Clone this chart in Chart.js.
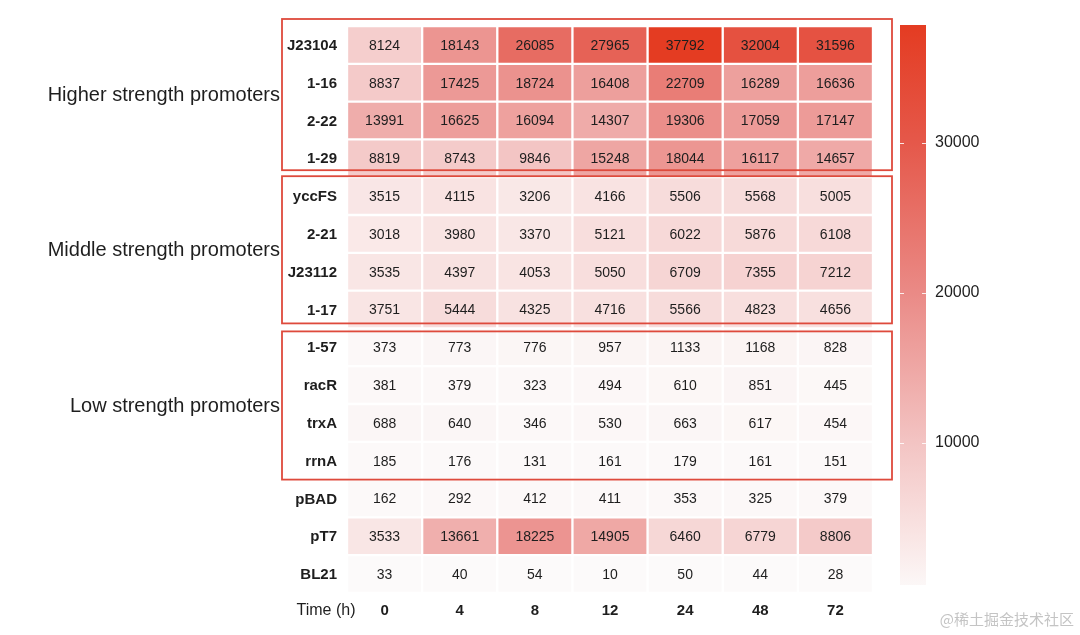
<!DOCTYPE html>
<html>
<head>
<meta charset="utf-8">
<script src="https://cdn.jsdelivr.net/npm/chart.js@4.4.1/dist/chart.umd.min.js"></script>
<style>
  html, body { margin: 0; padding: 0; background: #ffffff; }
  #wrap { position: relative; width: 1080px; height: 635px; }
</style>
</head>
<body>
<div id="wrap"><canvas id="c" width="1080" height="635"></canvas></div>
<script>
// ---- data ----
const rows = ['J23104','1-16','2-22','1-29','yccFS','2-21','J23112','1-17','1-57','racR','trxA','rrnA','pBAD','pT7','BL21'];
const times = ['0','4','8','12','24','48','72'];
const h0  = [8124, 8837, 13991, 8819, 3515, 3018, 3535, 3751, 373, 381, 688, 185, 162, 3533, 33];
const h4  = [18143, 17425, 16625, 8743, 4115, 3980, 4397, 5444, 773, 379, 640, 176, 292, 13661, 40];
const h8  = [26085, 18724, 16094, 9846, 3206, 3370, 4053, 4325, 776, 323, 346, 131, 412, 18225, 54];
const h12 = [27965, 16408, 14307, 15248, 4166, 5121, 5050, 4716, 957, 494, 530, 161, 411, 14905, 10];
const h24 = [37792, 22709, 19306, 18044, 5506, 6022, 6709, 5566, 1133, 610, 663, 179, 353, 6460, 50];
const h48 = [32004, 16289, 17059, 16117, 5568, 5876, 7355, 4823, 1168, 851, 617, 161, 325, 6779, 44];
const h72 = [31596, 16636, 17147, 14657, 5005, 6108, 7212, 4656, 828, 445, 454, 151, 379, 8806, 28];
const columns = [h0, h4, h8, h12, h24, h48, h72];
const groupNames = ['Higher strength promoters', 'Middle strength promoters', 'Low strength promoters'];
const groupFirstRow = [0, 4, 8];
const groupLastRow = [3, 7, 11];
const colorbarTicks = [10000, 20000, 30000];

// ---- colour scale ----
const vmax = Math.max(...columns.flat());
const stops = [
  [0.00, [252, 250, 250]],
  [0.10, [249, 229, 228]],
  [0.265, [243, 196, 195]],
  [0.53, [234, 138, 134]],
  [0.795, [229, 88, 74]],
  [1.00, [228, 60, 34]]
];
function colorAt(t) {
  t = Math.max(0, Math.min(1, t));
  for (let i = 1; i < stops.length; i++) {
    if (t <= stops[i][0]) {
      const [t0, c0] = stops[i - 1], [t1, c1] = stops[i];
      const f = (t - t0) / (t1 - t0);
      return 'rgb(' + c0.map((c, k) => Math.round(c + (c1[k] - c) * f)).join(',') + ')';
    }
  }
  return 'rgb(' + stops[stops.length - 1][1].join(',') + ')';
}
const colorFor = v => colorAt(v / vmax);

const FONT = "'Liberation Sans', Arial, Helvetica, sans-serif";
const TEXT = '#1e1e1e';

const datasets = columns.map((col, i) => ({
  label: times[i],
  data: col.map(() => 1),
  values: col,
  backgroundColor: col.map(colorFor),
  borderColor: '#ffffff',
  borderWidth: 1.5,
  borderSkipped: false,
  barPercentage: 1,
  categoryPercentage: 1
}));

const overlay = {
  id: 'overlay',
  afterDatasetsDraw(chart) {
    const ctx = chart.ctx;
    const y = chart.scales.y;
    const area = chart.chartArea;
    // cell labels
    ctx.save();
    ctx.font = '14px ' + FONT;
    ctx.fillStyle = TEXT;
    ctx.textAlign = 'center';
    ctx.textBaseline = 'middle';
    chart.data.datasets.forEach((ds, di) => {
      chart.getDatasetMeta(di).data.forEach((el, ri) => {
        const p = el.getCenterPoint();
        ctx.fillText(String(ds.values[ri]), p.x, p.y + 1);
      });
    });
    ctx.restore();

    // group boxes and labels
    const rowH = y.getPixelForValue(1) - y.getPixelForValue(0);
    const offTop = [-7, -1, 3];
    const offBot = [-7, -5, 0];
    ctx.save();
    ctx.strokeStyle = '#de4a3c';
    ctx.lineWidth = 1.8;
    groupNames.forEach((name, g) => {
      const top = y.getPixelForValue(groupFirstRow[g]) - rowH / 2 + offTop[g];
      const bot = y.getPixelForValue(groupLastRow[g]) + rowH / 2 + offBot[g];
      const left = area.left - 65;
      const right = area.right + 19;
      ctx.strokeRect(left, top, right - left, bot - top);
      ctx.font = '20px ' + FONT;
      ctx.fillStyle = TEXT;
      ctx.textAlign = 'right';
      ctx.textBaseline = 'middle';
      ctx.fillText(name, left - 2, (top + bot) / 2 + 1);
    });
    ctx.restore();

    // x axis caption
    ctx.save();
    ctx.font = '16px ' + FONT;
    ctx.fillStyle = TEXT;
    ctx.textAlign = 'center';
    ctx.textBaseline = 'middle';
    ctx.fillText('Time (h)', area.left - 21, area.bottom + 18);
    ctx.restore();

    // colour bar
    const cb = chart.scales.cb;
    const x0 = cb.left + 27, w = 26;
    const yTop = cb.top - 1, yBot = cb.bottom - 8;
    const grad = ctx.createLinearGradient(0, cb.getPixelForValue(0), 0, cb.getPixelForValue(vmax));
    stops.forEach(([t, c]) => grad.addColorStop(t, 'rgb(' + c.join(',') + ')'));
    ctx.save();
    ctx.fillStyle = grad;
    ctx.fillRect(x0, yTop, w, yBot - yTop);
    ctx.strokeStyle = 'rgba(255,255,255,0.85)';
    ctx.lineWidth = 1;
    colorbarTicks.forEach(v => {
      const py = Math.round(cb.getPixelForValue(v)) + 0.5;
      ctx.beginPath();
      ctx.moveTo(x0, py); ctx.lineTo(x0 + 4, py);
      ctx.moveTo(x0 + w - 4, py); ctx.lineTo(x0 + w, py);
      ctx.stroke();
    });
    ctx.restore();

    // watermark
    ctx.save();
    ctx.font = "15px 'Noto Sans CJK SC', sans-serif";
    ctx.fillStyle = '#c4c4c4';
    ctx.textAlign = 'right';
    ctx.textBaseline = 'middle';
    ctx.fillText('@稀土掘金技术社区', 1074, 619);
    ctx.restore();
  }
};

new Chart(document.getElementById('c'), {
  type: 'bar',
  data: { labels: rows, datasets },
  options: {
    responsive: false,
    animation: false,
    indexAxis: 'y',
    layout: { padding: { top: 26, right: 0, bottom: 0, left: 0 } },
    plugins: { legend: { display: false }, tooltip: { enabled: false }, title: { display: false } },
    scales: {
      x: {
        type: 'linear',
        stacked: true,
        min: 0,
        max: times.length,
        position: 'bottom',
        grid: { display: false, drawTicks: false },
        border: { display: false },
        afterBuildTicks: s => { s.ticks = times.map((t, i) => ({ value: i + 0.5 })); },
        afterFit: s => { s.height = 42; s.paddingLeft = 0; s.paddingRight = 0; },
        ticks: {
          autoSkip: false,
          maxRotation: 0,
          padding: 9,
          color: TEXT,
          font: { family: FONT, size: 15, weight: 'bold' },
          callback: (v, i) => times[i]
        }
      },
      y: {
        type: 'category',
        stacked: true,
        position: 'left',
        grid: { display: false, drawTicks: false },
        border: { display: false },
        afterFit: s => { s.width = 347; s.paddingTop = 0; s.paddingBottom = 0; },
        ticks: {
          padding: 10,
          labelOffset: 1,
          color: TEXT,
          font: { family: FONT, size: 15, weight: 'bold' }
        }
      },
      cb: {
        type: 'linear',
        axis: 'y',
        position: 'right',
        offset: false,
        min: 0,
        max: 37800,
        grid: { display: false, drawTicks: false, offset: false },
        border: { display: false },
        afterBuildTicks: s => { s.ticks = colorbarTicks.map(v => ({ value: v })); },
        afterFit: s => { s.width = 207; s.paddingTop = 0; s.paddingBottom = 0; },
        ticks: {
          padding: 62,
          color: TEXT,
          font: { family: FONT, size: 16 },
          callback: v => String(v)
        }
      }
    }
  },
  plugins: [overlay]
});
</script>
</body>
</html>
